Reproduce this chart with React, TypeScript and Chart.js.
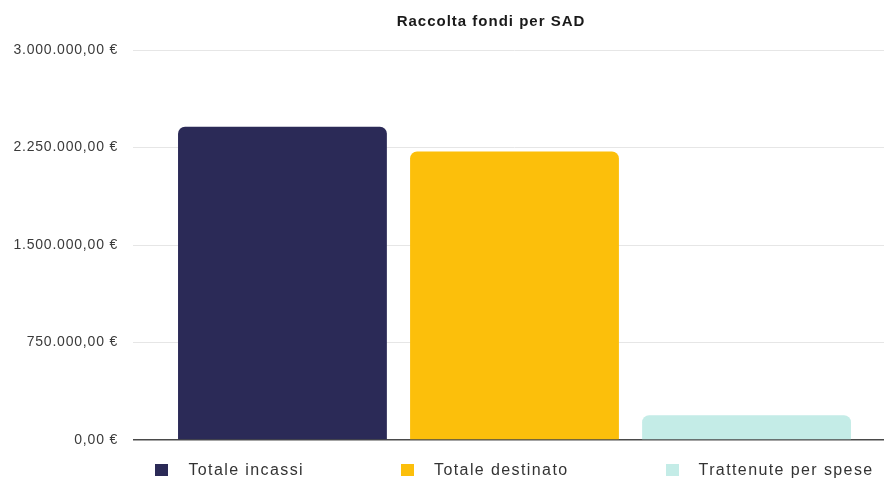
import React, { useEffect, useRef } from "react";
import { Chart, registerables } from "chart.js";

Chart.register(...registerables);

const categories = ["Raccolta fondi per SAD"];
const seriesLabels = ["Totale incassi", "Totale destinato", "Trattenute per spese"];
const seriesValues = [2410000, 2220000, 190000];
const seriesColors = ["#2b2a57", "#fcbf0b", "#c4ece7"];
const yTicks = [0, 750000, 1500000, 2250000, 3000000];
const titleText = "Raccolta fondi per SAD";

function formatEuro(v: number): string {
  const fixed = Math.abs(v).toFixed(2);
  const [intPart, dec] = fixed.split(".");
  const withDots = intPart.replace(/\B(?=(\d{3})+(?!\d))/g, ".");
  return (v < 0 ? "-" : "") + withDots + "," + dec + " €";
}

const spacingPlugin = {
  id: "spacing",
  beforeUpdate(chart: any) {
    (chart.ctx as any).letterSpacing = "0.8px";
  },
  beforeDraw(chart: any) {
    (chart.ctx as any).letterSpacing = "0.8px";
  },
};

export default function App() {
  const ref = useRef<HTMLCanvasElement | null>(null);

  useEffect(() => {
    document.body.style.margin = "0";
    if (!ref.current) return;
    const chart = new Chart(ref.current, {
      type: "bar",
      data: {
        labels: categories,
        datasets: seriesLabels.map((label, i) => ({
          label,
          data: [seriesValues[i]],
          backgroundColor: seriesColors[i],
          borderRadius: 7,
          borderSkipped: "bottom",
          categoryPercentage: 0.942,
          barPercentage: 0.9,
        })),
      },
      options: {
        animation: false,
        responsive: false,
        devicePixelRatio: 1,
        layout: { padding: { top: 50, bottom: 46, left: 0, right: 0 } },
        plugins: {
          legend: { display: false },
          title: { display: false },
          tooltip: { enabled: false },
        },
        scales: {
          x: { display: false },
          y: {
            min: 0,
            max: 3000000,
            afterFit(scale: any) {
              scale.width = 145;
            },
            afterBuildTicks(scale: any) {
              scale.ticks = yTicks.map((v) => ({ value: v }));
            },
            border: { display: false },
            grid: {
              tickLength: 12,
              color: (c: any) => (c.tick && c.tick.value === 0 ? "#4a4a4a" : "#e6e6e6"),
              lineWidth: (c: any) => (c.tick && c.tick.value === 0 ? 1.5 : 1),
            },
            ticks: {
              padding: 15,
              color: "#3a3a3a",
              font: { family: "'Liberation Sans', Arial, sans-serif", size: 14 },
              callback: (v: any) => formatEuro(Number(v)),
            },
          },
        },
      },
      plugins: [spacingPlugin],
    });
    return () => chart.destroy();
  }, []);

  return (
    <div style={{ position: "relative", width: 884, height: 486, fontFamily: "'Liberation Sans', Arial, sans-serif" }}>
      <canvas ref={ref} width={884} height={486} style={{ display: "block", width: 884, height: 486 }} />
      <div
        style={{
          position: "absolute",
          top: 12,
          left: 491 - 150,
          width: 300,
          textAlign: "center",
          fontWeight: "bold",
          fontSize: 15,
          letterSpacing: "1px",
          color: "#1a1a1a",
        }}
      >
        {titleText}
      </div>
      <div
        style={{
          position: "absolute",
          top: 461,
          left: 145,
          width: 739,
          display: "flex",
          justifyContent: "center",
          gap: 97,
          fontSize: 16,
          letterSpacing: "1.4px",
          color: "#333",
        }}
      >
        {seriesLabels.map((l, i) => (
          <div key={l} style={{ display: "flex", alignItems: "center" }}>
            <span style={{ display: "inline-block", width: 13, height: 12, background: seriesColors[i], marginRight: 20 }} />
            <span style={{ whiteSpace: "nowrap" }}>{l}</span>
          </div>
        ))}
      </div>
    </div>
  );
}
